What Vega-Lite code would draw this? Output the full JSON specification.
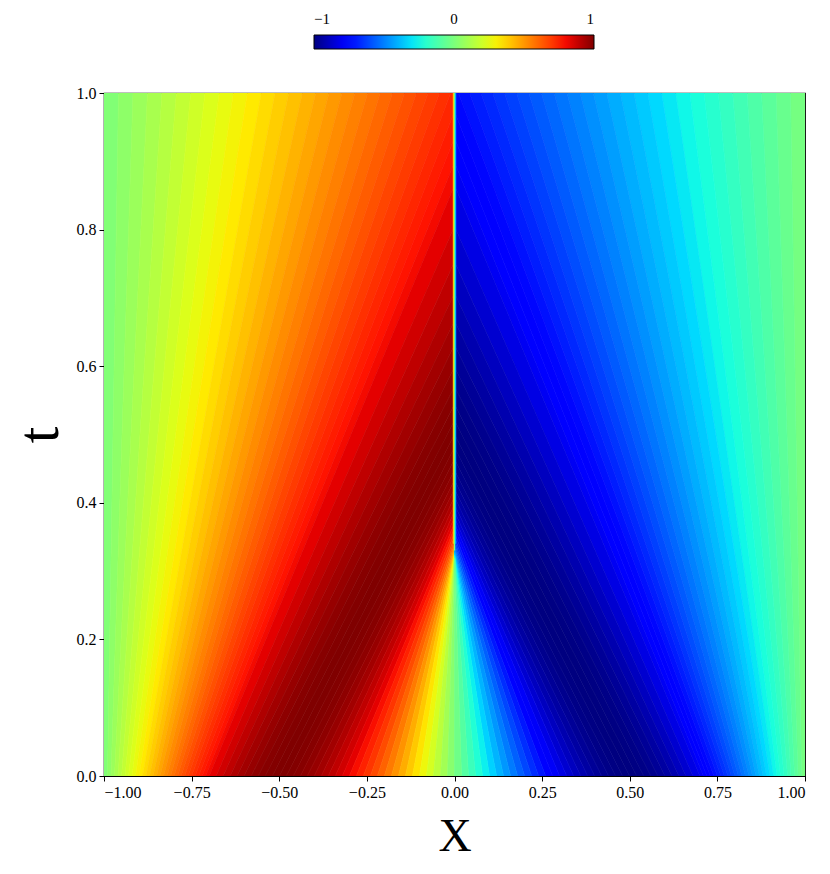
{
"$schema": "https://vega.github.io/schema/vega-lite/v6.json",
"width": 701, "height": 683,
"autosize": {"type": "none"},
"padding": {"left": 104, "top": 93, "right": 25, "bottom": 98},
"background": "white",
"config": {
  "view": {"stroke": "black", "strokeWidth": 1.2},
  "font": "Liberation Serif",
  "axis": {"grid": false, "domainColor": "black", "tickColor": "black", "labelColor": "black", "titleColor": "black", "labelFont": "Liberation Serif", "titleFont": "Liberation Serif", "labelFontSize": 16, "titleFontWeight": "normal", "tickSize": 5, "labelPadding": 3}
},
"layer": [
{
"data": {"values": [
{"k":1,"t":0,"x":-1,"x2":-0.99,"u":0.0157},{"k":1,"t":1,"x":-1,"x2":-0.9586,"u":0.0157},
{"k":2,"t":0,"x":-0.99,"x2":-0.98,"u":0.0471},{"k":2,"t":1,"x":-0.9586,"x2":-0.9172,"u":0.0471},
{"k":3,"t":0,"x":-0.98,"x2":-0.97,"u":0.0785},{"k":3,"t":1,"x":-0.9172,"x2":-0.8759,"u":0.0785},
{"k":4,"t":0,"x":-0.97,"x2":-0.96,"u":0.1097},{"k":4,"t":1,"x":-0.8759,"x2":-0.8347,"u":0.1097},
{"k":5,"t":0,"x":-0.96,"x2":-0.95,"u":0.1409},{"k":5,"t":1,"x":-0.8347,"x2":-0.7936,"u":0.1409},
{"k":6,"t":0,"x":-0.95,"x2":-0.94,"u":0.1719},{"k":6,"t":1,"x":-0.7936,"x2":-0.7526,"u":0.1719},
{"k":7,"t":0,"x":-0.94,"x2":-0.93,"u":0.2028},{"k":7,"t":1,"x":-0.7526,"x2":-0.7119,"u":0.2028},
{"k":8,"t":0,"x":-0.93,"x2":-0.92,"u":0.2334},{"k":8,"t":1,"x":-0.7119,"x2":-0.6713,"u":0.2334},
{"k":9,"t":0,"x":-0.92,"x2":-0.91,"u":0.2638},{"k":9,"t":1,"x":-0.6713,"x2":-0.631,"u":0.2638},
{"k":10,"t":0,"x":-0.91,"x2":-0.9,"u":0.294},{"k":10,"t":1,"x":-0.631,"x2":-0.591,"u":0.294},
{"k":11,"t":0,"x":-0.9,"x2":-0.89,"u":0.3239},{"k":11,"t":1,"x":-0.591,"x2":-0.5513,"u":0.3239},
{"k":12,"t":0,"x":-0.89,"x2":-0.88,"u":0.3534},{"k":12,"t":1,"x":-0.5513,"x2":-0.5119,"u":0.3534},
{"k":13,"t":0,"x":-0.88,"x2":-0.87,"u":0.3826},{"k":13,"t":1,"x":-0.5119,"x2":-0.4729,"u":0.3826},
{"k":14,"t":0,"x":-0.87,"x2":-0.86,"u":0.4115},{"k":14,"t":1,"x":-0.4729,"x2":-0.4342,"u":0.4115},
{"k":15,"t":0,"x":-0.86,"x2":-0.85,"u":0.4399},{"k":15,"t":1,"x":-0.4342,"x2":-0.396,"u":0.4399},
{"k":16,"t":0,"x":-0.85,"x2":-0.84,"u":0.4679},{"k":16,"t":1,"x":-0.396,"x2":-0.3583,"u":0.4679},
{"k":17,"t":0,"x":-0.84,"x2":-0.83,"u":0.4954},{"k":17,"t":1,"x":-0.3583,"x2":-0.321,"u":0.4954},
{"k":18,"t":0,"x":-0.83,"x2":-0.82,"u":0.5224},{"k":18,"t":1,"x":-0.321,"x2":-0.2842,"u":0.5224},
{"k":19,"t":0,"x":-0.82,"x2":-0.81,"u":0.549},{"k":19,"t":1,"x":-0.2842,"x2":-0.2479,"u":0.549},
{"k":20,"t":0,"x":-0.81,"x2":-0.8,"u":0.5749},{"k":20,"t":1,"x":-0.2479,"x2":-0.2122,"u":0.5749},
{"k":21,"t":0,"x":-0.8,"x2":-0.79,"u":0.6004},{"k":21,"t":1,"x":-0.2122,"x2":-0.1771,"u":0.6004},
{"k":22,"t":0,"x":-0.79,"x2":-0.78,"u":0.6252},{"k":22,"t":1,"x":-0.1771,"x2":-0.1426,"u":0.6252},
{"k":23,"t":0,"x":-0.78,"x2":-0.77,"u":0.6494},{"k":23,"t":1,"x":-0.1426,"x2":-0.1087,"u":0.6494},
{"k":24,"t":0,"x":-0.77,"x2":-0.76,"u":0.6729},{"k":24,"t":1,"x":-0.1087,"x2":-0.0755,"u":0.6729},
{"k":25,"t":0,"x":-0.76,"x2":-0.75,"u":0.6958},{"k":25,"t":1,"x":-0.0755,"x2":-0.0429,"u":0.6958},
{"k":26,"t":0,"x":-0.75,"x2":-0.74,"u":0.718},{"k":26,"t":1,"x":-0.0429,"x2":-0.011,"u":0.718},
{"k":27,"t":0,"x":-0.74,"x2":-0.73,"u":0.7395},{"k":27,"t":0.9732,"x":-0.0306,"x2":0,"u":0.7395},{"k":27,"t":1,"x":-0.011,"x2":0,"u":0.7395},
{"k":28,"t":0,"x":-0.73,"x2":-0.72,"u":0.7603},{"k":28,"t":0.9345,"x":-0.0291,"x2":0,"u":0.7603},{"k":28,"t":0.9732,"x":0,"x2":0,"u":0.7603},
{"k":29,"t":0,"x":-0.72,"x2":-0.71,"u":0.7803},{"k":29,"t":0.8986,"x":-0.0277,"x2":0,"u":0.7803},{"k":29,"t":0.9345,"x":0,"x2":0,"u":0.7803},
{"k":30,"t":0,"x":-0.71,"x2":-0.7,"u":0.7996},{"k":30,"t":0.8652,"x":-0.0263,"x2":0,"u":0.7996},{"k":30,"t":0.8986,"x":0,"x2":0,"u":0.7996},
{"k":31,"t":0,"x":-0.7,"x2":-0.68,"u":0.8271},{"k":31,"t":0.8054,"x":-0.0484,"x2":0,"u":0.8271},{"k":31,"t":0.8652,"x":0,"x2":0,"u":0.8271},
{"k":32,"t":0,"x":-0.68,"x2":-0.66,"u":0.8607},{"k":32,"t":0.7532,"x":-0.0441,"x2":0,"u":0.8607},{"k":32,"t":0.8054,"x":0,"x2":0,"u":0.8607},
{"k":33,"t":0,"x":-0.66,"x2":-0.64,"u":0.891},{"k":33,"t":0.7073,"x":-0.0402,"x2":0,"u":0.891},{"k":33,"t":0.7532,"x":0,"x2":0,"u":0.891},
{"k":34,"t":0,"x":-0.64,"x2":-0.62,"u":0.9178},{"k":34,"t":0.6668,"x":-0.0366,"x2":0,"u":0.9178},{"k":34,"t":0.7073,"x":0,"x2":0,"u":0.9178},
{"k":35,"t":0,"x":-0.62,"x2":-0.6,"u":0.9409},{"k":35,"t":0.6309,"x":-0.0334,"x2":0,"u":0.9409},{"k":35,"t":0.6668,"x":0,"x2":0,"u":0.9409},
{"k":36,"t":0,"x":-0.6,"x2":-0.58,"u":0.9603},{"k":36,"t":0.5988,"x":-0.0305,"x2":0,"u":0.9603},{"k":36,"t":0.6309,"x":0,"x2":0,"u":0.9603},
{"k":37,"t":0,"x":-0.58,"x2":-0.56,"u":0.9759},{"k":37,"t":0.5701,"x":-0.0278,"x2":0,"u":0.9759},{"k":37,"t":0.5988,"x":0,"x2":0,"u":0.9759},
{"k":38,"t":0,"x":-0.56,"x2":-0.54,"u":0.9877},{"k":38,"t":0.5443,"x":-0.0254,"x2":0,"u":0.9877},{"k":38,"t":0.5701,"x":0,"x2":0,"u":0.9877},
{"k":39,"t":0,"x":-0.54,"x2":-0.52,"u":0.9956},{"k":39,"t":0.521,"x":-0.0231,"x2":0,"u":0.9956},{"k":39,"t":0.5443,"x":0,"x2":0,"u":0.9956},
{"k":40,"t":0,"x":-0.52,"x2":-0.5,"u":0.9995},{"k":40,"t":0.5,"x":-0.021,"x2":0,"u":0.9995},{"k":40,"t":0.521,"x":0,"x2":0,"u":0.9995},
{"k":41,"t":0,"x":-0.5,"x2":-0.48,"u":0.9995},{"k":41,"t":0.481,"x":-0.0191,"x2":0,"u":0.9995},{"k":41,"t":0.5,"x":0,"x2":0,"u":0.9995},
{"k":42,"t":0,"x":-0.48,"x2":-0.46,"u":0.9956},{"k":42,"t":0.4637,"x":-0.0173,"x2":0,"u":0.9956},{"k":42,"t":0.481,"x":0,"x2":0,"u":0.9956},
{"k":43,"t":0,"x":-0.46,"x2":-0.44,"u":0.9877},{"k":43,"t":0.4479,"x":-0.0156,"x2":0,"u":0.9877},{"k":43,"t":0.4637,"x":0,"x2":0,"u":0.9877},
{"k":44,"t":0,"x":-0.44,"x2":-0.42,"u":0.9759},{"k":44,"t":0.4336,"x":-0.0141,"x2":0,"u":0.9759},{"k":44,"t":0.4479,"x":0,"x2":0,"u":0.9759},
{"k":45,"t":0,"x":-0.42,"x2":-0.4,"u":0.9603},{"k":45,"t":0.4206,"x":-0.0126,"x2":0,"u":0.9603},{"k":45,"t":0.4336,"x":0,"x2":0,"u":0.9603},
{"k":46,"t":0,"x":-0.4,"x2":-0.38,"u":0.9409},{"k":46,"t":0.4087,"x":-0.0113,"x2":0,"u":0.9409},{"k":46,"t":0.4206,"x":0,"x2":0,"u":0.9409},
{"k":47,"t":0,"x":-0.38,"x2":-0.36,"u":0.9178},{"k":47,"t":0.3979,"x":-0.0101,"x2":0,"u":0.9178},{"k":47,"t":0.4087,"x":0,"x2":0,"u":0.9178},
{"k":48,"t":0,"x":-0.36,"x2":-0.34,"u":0.891},{"k":48,"t":0.388,"x":-0.0089,"x2":0,"u":0.891},{"k":48,"t":0.3979,"x":0,"x2":0,"u":0.891},
{"k":49,"t":0,"x":-0.34,"x2":-0.32,"u":0.8607},{"k":49,"t":0.379,"x":-0.0079,"x2":0,"u":0.8607},{"k":49,"t":0.388,"x":0,"x2":0,"u":0.8607},
{"k":50,"t":0,"x":-0.32,"x2":-0.3,"u":0.8271},{"k":50,"t":0.3708,"x":-0.0069,"x2":0,"u":0.8271},{"k":50,"t":0.379,"x":0,"x2":0,"u":0.8271},
{"k":51,"t":0,"x":-0.3,"x2":-0.28,"u":0.7902},{"k":51,"t":0.3634,"x":-0.006,"x2":0,"u":0.7902},{"k":51,"t":0.3708,"x":0,"x2":0,"u":0.7902},
{"k":52,"t":0,"x":-0.28,"x2":-0.26,"u":0.7501},{"k":52,"t":0.3567,"x":-0.0052,"x2":0,"u":0.7501},{"k":52,"t":0.3634,"x":0,"x2":0,"u":0.7501},
{"k":53,"t":0,"x":-0.26,"x2":-0.24,"u":0.7071},{"k":53,"t":0.3506,"x":-0.0044,"x2":0,"u":0.7071},{"k":53,"t":0.3567,"x":0,"x2":0,"u":0.7071},
{"k":54,"t":0,"x":-0.24,"x2":-0.22,"u":0.6613},{"k":54,"t":0.3451,"x":-0.0037,"x2":0,"u":0.6613},{"k":54,"t":0.3506,"x":0,"x2":0,"u":0.6613},
{"k":55,"t":0,"x":-0.22,"x2":-0.2,"u":0.6129},{"k":55,"t":0.3403,"x":-0.0031,"x2":0,"u":0.6129},{"k":55,"t":0.3451,"x":0,"x2":0,"u":0.6129},
{"k":56,"t":0,"x":-0.2,"x2":-0.18,"u":0.5621},{"k":56,"t":0.3359,"x":-0.0025,"x2":0,"u":0.5621},{"k":56,"t":0.3403,"x":0,"x2":0,"u":0.5621},
{"k":57,"t":0,"x":-0.18,"x2":-0.16,"u":0.509},{"k":57,"t":0.3321,"x":-0.002,"x2":0,"u":0.509},{"k":57,"t":0.3359,"x":0,"x2":0,"u":0.509},
{"k":58,"t":0,"x":-0.16,"x2":-0.14,"u":0.454},{"k":58,"t":0.3288,"x":-0.0016,"x2":0,"u":0.454},{"k":58,"t":0.3321,"x":0,"x2":0,"u":0.454},
{"k":59,"t":0,"x":-0.14,"x2":-0.12,"u":0.3972},{"k":59,"t":0.326,"x":-0.0012,"x2":0,"u":0.3972},{"k":59,"t":0.3288,"x":0,"x2":0,"u":0.3972},
{"k":60,"t":0,"x":-0.12,"x2":-0.1,"u":0.3387},{"k":60,"t":0.3236,"x":-0.0009,"x2":0,"u":0.3387},{"k":60,"t":0.326,"x":0,"x2":0,"u":0.3387},
{"k":61,"t":0,"x":-0.1,"x2":-0.08,"u":0.279},{"k":61,"t":0.3217,"x":-0.0006,"x2":0,"u":0.279},{"k":61,"t":0.3236,"x":0,"x2":0,"u":0.279},
{"k":62,"t":0,"x":-0.08,"x2":-0.06,"u":0.2181},{"k":62,"t":0.3202,"x":-0.0004,"x2":0,"u":0.2181},{"k":62,"t":0.3217,"x":0,"x2":0,"u":0.2181},
{"k":63,"t":0,"x":-0.06,"x2":-0.04,"u":0.1564},{"k":63,"t":0.3192,"x":-0.0002,"x2":0,"u":0.1564},{"k":63,"t":0.3202,"x":0,"x2":0,"u":0.1564},
{"k":64,"t":0,"x":-0.04,"x2":-0.02,"u":0.0941},{"k":64,"t":0.3185,"x":-0.0001,"x2":0,"u":0.0941},{"k":64,"t":0.3192,"x":0,"x2":0,"u":0.0941},
{"k":65,"t":0,"x":-0.02,"x2":0,"u":0.0314},{"k":65,"t":0.3185,"x":0,"x2":0,"u":0.0314},
{"k":101,"t":0,"x":1,"x2":0.99,"u":-0.0157},{"k":101,"t":1,"x":1,"x2":0.9586,"u":-0.0157},
{"k":102,"t":0,"x":0.99,"x2":0.98,"u":-0.0471},{"k":102,"t":1,"x":0.9586,"x2":0.9172,"u":-0.0471},
{"k":103,"t":0,"x":0.98,"x2":0.97,"u":-0.0785},{"k":103,"t":1,"x":0.9172,"x2":0.8759,"u":-0.0785},
{"k":104,"t":0,"x":0.97,"x2":0.96,"u":-0.1097},{"k":104,"t":1,"x":0.8759,"x2":0.8347,"u":-0.1097},
{"k":105,"t":0,"x":0.96,"x2":0.95,"u":-0.1409},{"k":105,"t":1,"x":0.8347,"x2":0.7936,"u":-0.1409},
{"k":106,"t":0,"x":0.95,"x2":0.94,"u":-0.1719},{"k":106,"t":1,"x":0.7936,"x2":0.7526,"u":-0.1719},
{"k":107,"t":0,"x":0.94,"x2":0.93,"u":-0.2028},{"k":107,"t":1,"x":0.7526,"x2":0.7119,"u":-0.2028},
{"k":108,"t":0,"x":0.93,"x2":0.92,"u":-0.2334},{"k":108,"t":1,"x":0.7119,"x2":0.6713,"u":-0.2334},
{"k":109,"t":0,"x":0.92,"x2":0.91,"u":-0.2638},{"k":109,"t":1,"x":0.6713,"x2":0.631,"u":-0.2638},
{"k":110,"t":0,"x":0.91,"x2":0.9,"u":-0.294},{"k":110,"t":1,"x":0.631,"x2":0.591,"u":-0.294},
{"k":111,"t":0,"x":0.9,"x2":0.89,"u":-0.3239},{"k":111,"t":1,"x":0.591,"x2":0.5513,"u":-0.3239},
{"k":112,"t":0,"x":0.89,"x2":0.88,"u":-0.3534},{"k":112,"t":1,"x":0.5513,"x2":0.5119,"u":-0.3534},
{"k":113,"t":0,"x":0.88,"x2":0.87,"u":-0.3826},{"k":113,"t":1,"x":0.5119,"x2":0.4729,"u":-0.3826},
{"k":114,"t":0,"x":0.87,"x2":0.86,"u":-0.4115},{"k":114,"t":1,"x":0.4729,"x2":0.4342,"u":-0.4115},
{"k":115,"t":0,"x":0.86,"x2":0.85,"u":-0.4399},{"k":115,"t":1,"x":0.4342,"x2":0.396,"u":-0.4399},
{"k":116,"t":0,"x":0.85,"x2":0.84,"u":-0.4679},{"k":116,"t":1,"x":0.396,"x2":0.3583,"u":-0.4679},
{"k":117,"t":0,"x":0.84,"x2":0.83,"u":-0.4954},{"k":117,"t":1,"x":0.3583,"x2":0.321,"u":-0.4954},
{"k":118,"t":0,"x":0.83,"x2":0.82,"u":-0.5224},{"k":118,"t":1,"x":0.321,"x2":0.2842,"u":-0.5224},
{"k":119,"t":0,"x":0.82,"x2":0.81,"u":-0.549},{"k":119,"t":1,"x":0.2842,"x2":0.2479,"u":-0.549},
{"k":120,"t":0,"x":0.81,"x2":0.8,"u":-0.5749},{"k":120,"t":1,"x":0.2479,"x2":0.2122,"u":-0.5749},
{"k":121,"t":0,"x":0.8,"x2":0.79,"u":-0.6004},{"k":121,"t":1,"x":0.2122,"x2":0.1771,"u":-0.6004},
{"k":122,"t":0,"x":0.79,"x2":0.78,"u":-0.6252},{"k":122,"t":1,"x":0.1771,"x2":0.1426,"u":-0.6252},
{"k":123,"t":0,"x":0.78,"x2":0.77,"u":-0.6494},{"k":123,"t":1,"x":0.1426,"x2":0.1087,"u":-0.6494},
{"k":124,"t":0,"x":0.77,"x2":0.76,"u":-0.6729},{"k":124,"t":1,"x":0.1087,"x2":0.0755,"u":-0.6729},
{"k":125,"t":0,"x":0.76,"x2":0.75,"u":-0.6958},{"k":125,"t":1,"x":0.0755,"x2":0.0429,"u":-0.6958},
{"k":126,"t":0,"x":0.75,"x2":0.74,"u":-0.718},{"k":126,"t":1,"x":0.0429,"x2":0.011,"u":-0.718},
{"k":127,"t":0,"x":0.74,"x2":0.73,"u":-0.7395},{"k":127,"t":0.9732,"x":0.0306,"x2":0,"u":-0.7395},{"k":127,"t":1,"x":0.011,"x2":0,"u":-0.7395},
{"k":128,"t":0,"x":0.73,"x2":0.72,"u":-0.7603},{"k":128,"t":0.9345,"x":0.0291,"x2":0,"u":-0.7603},{"k":128,"t":0.9732,"x":0,"x2":0,"u":-0.7603},
{"k":129,"t":0,"x":0.72,"x2":0.71,"u":-0.7803},{"k":129,"t":0.8986,"x":0.0277,"x2":0,"u":-0.7803},{"k":129,"t":0.9345,"x":0,"x2":0,"u":-0.7803},
{"k":130,"t":0,"x":0.71,"x2":0.7,"u":-0.7996},{"k":130,"t":0.8652,"x":0.0263,"x2":0,"u":-0.7996},{"k":130,"t":0.8986,"x":0,"x2":0,"u":-0.7996},
{"k":131,"t":0,"x":0.7,"x2":0.68,"u":-0.8271},{"k":131,"t":0.8054,"x":0.0484,"x2":0,"u":-0.8271},{"k":131,"t":0.8652,"x":0,"x2":0,"u":-0.8271},
{"k":132,"t":0,"x":0.68,"x2":0.66,"u":-0.8607},{"k":132,"t":0.7532,"x":0.0441,"x2":0,"u":-0.8607},{"k":132,"t":0.8054,"x":0,"x2":0,"u":-0.8607},
{"k":133,"t":0,"x":0.66,"x2":0.64,"u":-0.891},{"k":133,"t":0.7073,"x":0.0402,"x2":0,"u":-0.891},{"k":133,"t":0.7532,"x":0,"x2":0,"u":-0.891},
{"k":134,"t":0,"x":0.64,"x2":0.62,"u":-0.9178},{"k":134,"t":0.6668,"x":0.0366,"x2":0,"u":-0.9178},{"k":134,"t":0.7073,"x":0,"x2":0,"u":-0.9178},
{"k":135,"t":0,"x":0.62,"x2":0.6,"u":-0.9409},{"k":135,"t":0.6309,"x":0.0334,"x2":0,"u":-0.9409},{"k":135,"t":0.6668,"x":0,"x2":0,"u":-0.9409},
{"k":136,"t":0,"x":0.6,"x2":0.58,"u":-0.9603},{"k":136,"t":0.5988,"x":0.0305,"x2":0,"u":-0.9603},{"k":136,"t":0.6309,"x":0,"x2":0,"u":-0.9603},
{"k":137,"t":0,"x":0.58,"x2":0.56,"u":-0.9759},{"k":137,"t":0.5701,"x":0.0278,"x2":0,"u":-0.9759},{"k":137,"t":0.5988,"x":0,"x2":0,"u":-0.9759},
{"k":138,"t":0,"x":0.56,"x2":0.54,"u":-0.9877},{"k":138,"t":0.5443,"x":0.0254,"x2":0,"u":-0.9877},{"k":138,"t":0.5701,"x":0,"x2":0,"u":-0.9877},
{"k":139,"t":0,"x":0.54,"x2":0.52,"u":-0.9956},{"k":139,"t":0.521,"x":0.0231,"x2":0,"u":-0.9956},{"k":139,"t":0.5443,"x":0,"x2":0,"u":-0.9956},
{"k":140,"t":0,"x":0.52,"x2":0.5,"u":-0.9995},{"k":140,"t":0.5,"x":0.021,"x2":0,"u":-0.9995},{"k":140,"t":0.521,"x":0,"x2":0,"u":-0.9995},
{"k":141,"t":0,"x":0.5,"x2":0.48,"u":-0.9995},{"k":141,"t":0.481,"x":0.0191,"x2":0,"u":-0.9995},{"k":141,"t":0.5,"x":0,"x2":0,"u":-0.9995},
{"k":142,"t":0,"x":0.48,"x2":0.46,"u":-0.9956},{"k":142,"t":0.4637,"x":0.0173,"x2":0,"u":-0.9956},{"k":142,"t":0.481,"x":0,"x2":0,"u":-0.9956},
{"k":143,"t":0,"x":0.46,"x2":0.44,"u":-0.9877},{"k":143,"t":0.4479,"x":0.0156,"x2":0,"u":-0.9877},{"k":143,"t":0.4637,"x":0,"x2":0,"u":-0.9877},
{"k":144,"t":0,"x":0.44,"x2":0.42,"u":-0.9759},{"k":144,"t":0.4336,"x":0.0141,"x2":0,"u":-0.9759},{"k":144,"t":0.4479,"x":0,"x2":0,"u":-0.9759},
{"k":145,"t":0,"x":0.42,"x2":0.4,"u":-0.9603},{"k":145,"t":0.4206,"x":0.0126,"x2":0,"u":-0.9603},{"k":145,"t":0.4336,"x":0,"x2":0,"u":-0.9603},
{"k":146,"t":0,"x":0.4,"x2":0.38,"u":-0.9409},{"k":146,"t":0.4087,"x":0.0113,"x2":0,"u":-0.9409},{"k":146,"t":0.4206,"x":0,"x2":0,"u":-0.9409},
{"k":147,"t":0,"x":0.38,"x2":0.36,"u":-0.9178},{"k":147,"t":0.3979,"x":0.0101,"x2":0,"u":-0.9178},{"k":147,"t":0.4087,"x":0,"x2":0,"u":-0.9178},
{"k":148,"t":0,"x":0.36,"x2":0.34,"u":-0.891},{"k":148,"t":0.388,"x":0.0089,"x2":0,"u":-0.891},{"k":148,"t":0.3979,"x":0,"x2":0,"u":-0.891},
{"k":149,"t":0,"x":0.34,"x2":0.32,"u":-0.8607},{"k":149,"t":0.379,"x":0.0079,"x2":0,"u":-0.8607},{"k":149,"t":0.388,"x":0,"x2":0,"u":-0.8607},
{"k":150,"t":0,"x":0.32,"x2":0.3,"u":-0.8271},{"k":150,"t":0.3708,"x":0.0069,"x2":0,"u":-0.8271},{"k":150,"t":0.379,"x":0,"x2":0,"u":-0.8271},
{"k":151,"t":0,"x":0.3,"x2":0.28,"u":-0.7902},{"k":151,"t":0.3634,"x":0.006,"x2":0,"u":-0.7902},{"k":151,"t":0.3708,"x":0,"x2":0,"u":-0.7902},
{"k":152,"t":0,"x":0.28,"x2":0.26,"u":-0.7501},{"k":152,"t":0.3567,"x":0.0052,"x2":0,"u":-0.7501},{"k":152,"t":0.3634,"x":0,"x2":0,"u":-0.7501},
{"k":153,"t":0,"x":0.26,"x2":0.24,"u":-0.7071},{"k":153,"t":0.3506,"x":0.0044,"x2":0,"u":-0.7071},{"k":153,"t":0.3567,"x":0,"x2":0,"u":-0.7071},
{"k":154,"t":0,"x":0.24,"x2":0.22,"u":-0.6613},{"k":154,"t":0.3451,"x":0.0037,"x2":0,"u":-0.6613},{"k":154,"t":0.3506,"x":0,"x2":0,"u":-0.6613},
{"k":155,"t":0,"x":0.22,"x2":0.2,"u":-0.6129},{"k":155,"t":0.3403,"x":0.0031,"x2":0,"u":-0.6129},{"k":155,"t":0.3451,"x":0,"x2":0,"u":-0.6129},
{"k":156,"t":0,"x":0.2,"x2":0.18,"u":-0.5621},{"k":156,"t":0.3359,"x":0.0025,"x2":0,"u":-0.5621},{"k":156,"t":0.3403,"x":0,"x2":0,"u":-0.5621},
{"k":157,"t":0,"x":0.18,"x2":0.16,"u":-0.509},{"k":157,"t":0.3321,"x":0.002,"x2":0,"u":-0.509},{"k":157,"t":0.3359,"x":0,"x2":0,"u":-0.509},
{"k":158,"t":0,"x":0.16,"x2":0.14,"u":-0.454},{"k":158,"t":0.3288,"x":0.0016,"x2":0,"u":-0.454},{"k":158,"t":0.3321,"x":0,"x2":0,"u":-0.454},
{"k":159,"t":0,"x":0.14,"x2":0.12,"u":-0.3972},{"k":159,"t":0.326,"x":0.0012,"x2":0,"u":-0.3972},{"k":159,"t":0.3288,"x":0,"x2":0,"u":-0.3972},
{"k":160,"t":0,"x":0.12,"x2":0.1,"u":-0.3387},{"k":160,"t":0.3236,"x":0.0009,"x2":0,"u":-0.3387},{"k":160,"t":0.326,"x":0,"x2":0,"u":-0.3387},
{"k":161,"t":0,"x":0.1,"x2":0.08,"u":-0.279},{"k":161,"t":0.3217,"x":0.0006,"x2":0,"u":-0.279},{"k":161,"t":0.3236,"x":0,"x2":0,"u":-0.279},
{"k":162,"t":0,"x":0.08,"x2":0.06,"u":-0.2181},{"k":162,"t":0.3202,"x":0.0004,"x2":0,"u":-0.2181},{"k":162,"t":0.3217,"x":0,"x2":0,"u":-0.2181},
{"k":163,"t":0,"x":0.06,"x2":0.04,"u":-0.1564},{"k":163,"t":0.3192,"x":0.0002,"x2":0,"u":-0.1564},{"k":163,"t":0.3202,"x":0,"x2":0,"u":-0.1564},
{"k":164,"t":0,"x":0.04,"x2":0.02,"u":-0.0941},{"k":164,"t":0.3185,"x":0.0001,"x2":0,"u":-0.0941},{"k":164,"t":0.3192,"x":0,"x2":0,"u":-0.0941},
{"k":165,"t":0,"x":0.02,"x2":0,"u":-0.0314},{"k":165,"t":0.3185,"x":0,"x2":0,"u":-0.0314}
]},
"mark": {"type": "area", "orient": "horizontal", "interpolate": "linear", "clip": true, "strokeWidth": 0.6, "stroke": {"expr": "scale('fill', datum.u)"}},
"encoding": {
  "y": {"field": "t", "type": "quantitative", "scale": {"domain": [0, 1], "nice": false, "zero": false}, "axis": {"values": [0, 0.2, 0.4, 0.6, 0.8, 1.0], "format": ".1f", "title": "t", "titleFontSize": 60, "titlePadding": 6}},
  "x": {"field": "x", "type": "quantitative", "stack": null, "scale": {"domain": [-1, 1], "nice": false, "zero": false}, "axis": {"values": [-1, -0.75, -0.5, -0.25, 0, 0.25, 0.5, 0.75, 1], "format": ".2f", "title": "X", "titleFontSize": 46, "titlePadding": 14}},
  "x2": {"field": "x2"},
  "detail": {"field": "k", "type": "nominal"},
  "fill": {"field": "u", "type": "quantitative",
    "scale": {"domain": [-1, -0.78, -0.75, -0.5, -0.32, -0.25, 0, 0.25, 0.32, 0.5, 0.78, 0.82, 1], "range": ["#000080", "#0000ff", "#0000ff", "#0080ff", "#00dbff", "#14ffe2", "#7bff7b", "#e2ff14", "#ffec00", "#ff9700", "#ff1300", "#e80000", "#800000"], "interpolate": "rgb"},
    "legend": {"type": "gradient", "orient": "none", "legendX": 210, "legendY": -58, "direction": "horizontal", "gradientLength": 280, "gradientThickness": 14, "values": [-1, 0, 1], "format": "d", "title": null, "labelOffset": -37, "labelAlign": "center", "labelFontSize": 15, "labelFont": "Liberation Serif", "labelColor": "black", "gradientStrokeColor": "black", "gradientStrokeWidth": 1}}
}
},
{
"data": {"values": [
{"x": -0.003, "t": 0.34, "t2": 1, "u": 0.4},
{"x": 0, "t": 0.33, "t2": 1, "u": 0},
{"x": 0.003, "t": 0.34, "t2": 1, "u": -0.4}
]},
"mark": {"type": "rule", "strokeWidth": 1.3, "clip": true, "stroke": {"expr": "scale('fill', datum.u)"}},
"encoding": {
  "x": {"field": "x", "type": "quantitative"},
  "y": {"field": "t", "type": "quantitative"},
  "y2": {"field": "t2"}
}
}
]
}
